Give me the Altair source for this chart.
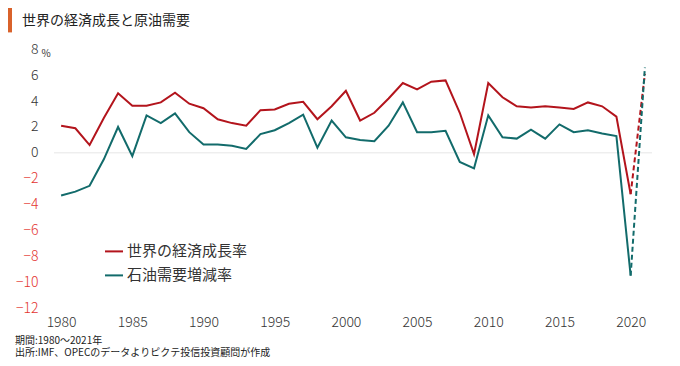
import altair as alt
import pandas as pd

years = list(range(1980, 2022))
gdp_growth = [2.1, 1.9, 0.6, 2.7, 4.6, 3.65, 3.65, 3.9, 4.65, 3.8,
              3.45, 2.6, 2.3, 2.1, 3.3, 3.35, 3.8, 3.95, 2.6, 3.6,
              4.8, 2.5, 3.1, 4.2, 5.4, 4.9, 5.5, 5.6, 3.1, -0.1,
              5.4, 4.3, 3.6, 3.5, 3.6, 3.5, 3.4, 3.9, 3.6, 2.8,
              -3.2, 6.1]
oil_demand = [-3.3, -3.0, -2.55, -0.5, 2.0, -0.25, 2.9, 2.3, 3.05, 1.6,
              0.65, 0.65, 0.55, 0.3, 1.45, 1.75, 2.3, 2.95, 0.4, 2.5,
              1.2, 1.0, 0.9, 2.1, 3.9, 1.6, 1.6, 1.7, -0.7, -1.2,
              2.9, 1.2, 1.1, 1.8, 1.1, 2.2, 1.6, 1.75, 1.5, 1.3,
              -9.5, 6.6]
series_names = ["世界の経済成長率", "石油需要増減率"]
series_colors = ["#b3141c", "#126b6b"]
x_ticks = list(range(1980, 2021, 5))
y_ticks = list(range(-12, 9, 2))
title_text = "世界の経済成長と原油需要"
note1 = "期間:1980～2021年"
note2 = "出所:IMF、OPECのデータよりピクテ投信投資顧問が作成"

FONT = "Noto Sans CJK JP"

rows = []
for name, vals in zip(series_names, [gdp_growth, oil_demand]):
    for y, v in zip(years, vals):
        rows.append({"year": y, "value": v, "series": name})
df = pd.DataFrame(rows)
solid = df[df["year"] <= 2020]
dashed = df[df["year"] >= 2020]

x_axis = alt.Axis(values=x_ticks, format="d", title=None, grid=False, domain=False,
                  ticks=False, labelFont=FONT, labelFontSize=14, labelColor="#333333",
                  labelPadding=7, labelFontWeight=300, labelOverlap=False)
y_axis = alt.Axis(values=y_ticks, title=None, grid=False, domain=False, ticks=False,
                  labelFont=FONT, labelFontSize=14, labelPadding=16, labelFontWeight=300,
                  labelOverlap=False,
                  labelColor=alt.ExprRef(expr="datum.value < 0 ? '#e3342f' : '#333333'"))
x_scale = alt.Scale(domain=[1979.5, 2021.5], nice=False, zero=False)
y_scale = alt.Scale(domain=[-12, 8], nice=False)

def xe():
    return alt.X("year:Q", scale=x_scale, axis=x_axis)

def ye():
    return alt.Y("value:Q", scale=y_scale, axis=y_axis)

color_scale = alt.Scale(domain=series_names, range=series_colors)
color_enc = alt.Color("series:N", scale=color_scale,
                      legend=alt.Legend(title=None, orient="none", legendX=50, legendY=192,
                                        symbolType="stroke", symbolSize=324, symbolStrokeWidth=2,
                                        labelFont=FONT, labelFontSize=15, labelColor="#333333",
                                        rowPadding=6, labelOffset=3))

zero = alt.Chart(pd.DataFrame({"value": [0]})).mark_rule(color="#e6e6e6", strokeWidth=1).encode(
    y=ye())

solid_lines = alt.Chart(solid).mark_line(strokeWidth=2).encode(x=xe(), y=ye(), color=color_enc)
dashed_lines = alt.Chart(dashed).mark_line(strokeWidth=2, strokeDash=[5, 3]).encode(
    x=xe(), y=ye(), color=alt.Color("series:N", scale=color_scale, legend=None))

bar = alt.Chart(pd.DataFrame({"a": [0]})).mark_rect(color="#d9622b").encode(
    x=alt.value(-48), x2=alt.value(-42), y=alt.value(-43), y2=alt.value(-17))
title = alt.Chart(pd.DataFrame({"t": [title_text]})).mark_text(
    align="left", baseline="middle", font=FONT, fontSize=14, color="#222222").encode(
    text="t:N", x=alt.value(-32), y=alt.value(-28.5))
pct = alt.Chart(pd.DataFrame({"t": ["%"]})).mark_text(
    align="center", baseline="middle", font=FONT, fontSize=10, color="#333333").encode(
    text="t:N", x=alt.value(-8), y=alt.value(5))
n1 = alt.Chart(pd.DataFrame({"t": [note1]})).mark_text(
    align="left", baseline="middle", font=FONT, fontSize=10, color="#222222").encode(
    text="t:N", x=alt.value(-39), y=alt.value(291.5))
n2 = alt.Chart(pd.DataFrame({"t": [note2]})).mark_text(
    align="left", baseline="middle", font=FONT, fontSize=10, color="#222222").encode(
    text="t:N", x=alt.value(-39), y=alt.value(303.8))

chart = alt.layer(zero, solid_lines, dashed_lines, bar, title, pct, n1, n2).resolve_scale(
    y="shared").properties(
    width=598, height=258.6,
    autosize=alt.AutoSizeParams(type="none"),
    padding={"left": 46, "top": 41.4, "right": 18, "bottom": 50},
).configure_view(stroke=None)

chart.save("out.html", embed_options={"renderer": "svg", "actions": False})
